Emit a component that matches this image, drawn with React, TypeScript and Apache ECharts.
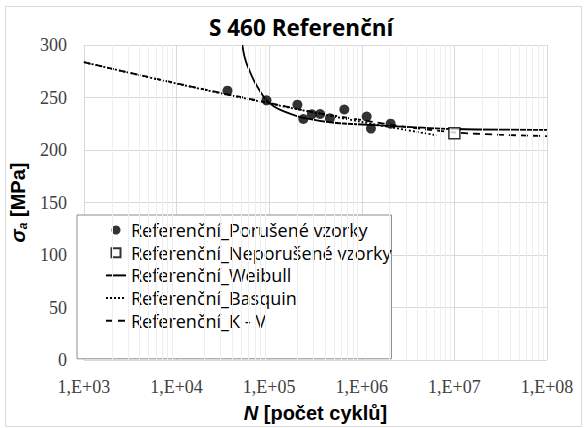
import React, { useEffect, useRef } from 'react';
import * as echarts from 'echarts';

// Failed specimens (Porušené vzorky)
const failedN = [35500, 93600, 202000, 234000, 289000, 355000, 453000, 648000, 1130000, 1256000, 2050000];
const failedS = [256.5, 247.3, 243.2, 229.5, 234.0, 234.3, 230.2, 238.6, 231.8, 220.4, 225.1];
// Run-outs (Neporušené vzorky)
const runoutN = [10000000];
const runoutS = [216];
// Weibull curve
const weibullN = [51250, 54200, 58750, 69200, 80100, 92200, 113000, 144500, 235500, 533000, 2000000, 10000000, 100000000];
const weibullS = [300, 289, 279.5, 265.3, 255.8, 247.9, 241.5, 236.8, 230.5, 225.7, 223.0, 220.0, 219.2];
// Basquin curve
const basquinN = [1000, 10000, 100000, 1000000, 6450000];
const basquinS = [283.6, 263.2, 244.3, 226.7, 214.0];
// Kohout-Věchet curve
const kvN = [1000, 10000, 100000, 300000, 1000000, 3000000, 10000000, 30000000, 100000000];
const kvS = [283.6, 263.5, 244.8, 236.0, 228.5, 222.0, 216.8, 214.6, 213.2];

const xDecades = [1000, 10000, 100000, 1000000, 10000000, 100000000];
const xTickLabels = ['1,E+03', '1,E+04', '1,E+05', '1,E+06', '1,E+07', '1,E+08'];
const yTickLabels = ['0', '50', '100', '150', '200', '250', '300'];

const seriesNames = [
  'Referenční_Porušené vzorky',
  'Referenční_Neporušené vzorky',
  'Referenční_Weibull',
  'Referenční_Basquin',
  'Referenční_K - V',
];

const OPEN = '"Open Sans", "Noto Sans", sans-serif';
const ARIAL = '"Liberation Sans", Arial, sans-serif';
const SERIF = '"Liberation Serif", "DejaVu Serif", serif';

const zip = (a: number[], b: number[]) => a.map((v, i) => [v, b[i]]);

export default function App() {
  const ref = useRef<HTMLDivElement>(null);
  useEffect(() => {
    if (!ref.current) return;
    const chart = echarts.init(ref.current, null, { renderer: 'svg' });
    const minorTicks: number[] = [];
    for (let d = 0; d < xDecades.length - 1; d++) {
      for (let k = 2; k <= 9; k++) minorTicks.push(k * xDecades[d]);
    }
    const hiddenSymbol = { opacity: 0, color: 'rgba(0,0,0,0)', borderWidth: 0 };
    const option: any = {
      animation: false,
      backgroundColor: '#ffffff',
      title: {
        text: 'S 460 Referenční',
        left: 209,
        top: 16,
        padding: 0,
        textStyle: { fontFamily: OPEN, fontWeight: 'bold', fontSize: 22.5, color: '#000' },
      },
      graphic: [
        {
          type: 'rect',
          silent: true,
          shape: { x: 5.5, y: 6.5, width: 576, height: 420 },
          style: { fill: 'none', stroke: '#d9d9d9', lineWidth: 1 },
        },
      ],
      grid: { left: 77, right: 37, top: 45, bottom: 67, containLabel: false },
      legend: {
        orient: 'vertical',
        left: 77,
        top: 215,
        padding: [6, 0, 29, 28],
        itemGap: 4.7,
        itemWidth: 20,
        itemHeight: 9,
        backgroundColor: '#ffffff',
        borderColor: '#8c8c8c',
        borderWidth: 1,
        textStyle: { fontFamily: OPEN, fontSize: 18, color: '#000', width: 285 },
        data: [
          { name: seriesNames[0], icon: 'circle' },
          { name: seriesNames[1], icon: 'path://M0,0H10V10H0Z' },
          { name: seriesNames[2], itemStyle: hiddenSymbol },
          { name: seriesNames[3], itemStyle: hiddenSymbol },
          { name: seriesNames[4], itemStyle: hiddenSymbol },
        ],
      },
      xAxis: {
        type: 'log',
        logBase: 10,
        min: xDecades[0],
        max: xDecades[xDecades.length - 1],
        name: '{n|N} {t|[počet cyklů]}',
        nameLocation: 'middle',
        nameGap: 43,
        nameTextStyle: {
          fontFamily: ARIAL,
          fontWeight: 'bold',
          fontSize: 20,
          color: '#000',
          rich: {
            n: { fontFamily: ARIAL, fontWeight: 'bold', fontStyle: 'italic', fontSize: 20, color: '#000' },
            t: { fontFamily: ARIAL, fontWeight: 'bold', fontSize: 20, color: '#000' },
          },
        },
        axisLine: { show: false },
        axisTick: { show: false },
        axisLabel: {
          fontFamily: SERIF,
          fontSize: 18,
          color: '#404040',
          margin: 18,
          formatter: (v: number) => {
            const i = xDecades.findIndex((d) => Math.abs(d - v) / d < 1e-6);
            return i >= 0 ? xTickLabels[i] : '';
          },
        },
        splitLine: { show: true, lineStyle: { color: '#d9d9d9', width: 1 } },
      },
      yAxis: {
        type: 'value',
        min: 0,
        max: 300,
        interval: 50,
        name: '{s|σ}{sub|a}{t| [MPa]}',
        nameLocation: 'middle',
        nameGap: 46,
        nameTextStyle: {
          fontFamily: ARIAL,
          fontWeight: 'bold',
          fontSize: 20,
          color: '#000',
          rich: {
            s: { fontFamily: ARIAL, fontWeight: 'bold', fontStyle: 'italic', fontSize: 20, color: '#000', lineHeight: 22 },
            sub: { fontFamily: ARIAL, fontWeight: 'bold', fontStyle: 'italic', fontSize: 12, color: '#000', lineHeight: 11, verticalAlign: 'bottom' },
            t: { fontFamily: ARIAL, fontWeight: 'bold', fontSize: 20, color: '#000', lineHeight: 22 },
          },
        },
        axisLine: { show: false },
        axisTick: { show: false },
        axisLabel: {
          fontFamily: SERIF,
          fontSize: 18,
          color: '#404040',
          margin: 17,
          formatter: (v: number) => yTickLabels[Math.round(v / 50)] ?? '',
        },
        splitLine: { show: true, lineStyle: { color: '#d9d9d9', width: 1 } },
      },
      series: [
        {
          name: '_minor',
          type: 'line',
          data: [],
          silent: true,
          z: 1,
          markLine: {
            silent: true,
            symbol: 'none',
            label: { show: false },
            lineStyle: { color: '#eeeeee', width: 1, type: 'solid' },
            emphasis: { disabled: true },
            data: minorTicks.map((v) => ({ xAxis: v })),
          },
        },
        {
          name: seriesNames[2],
          type: 'line',
          data: zip(weibullN, weibullS),
          smooth: 0.3,
          symbol: 'none',
          showSymbol: false,
          lineStyle: { color: '#000', width: 1.8, type: 'solid' },
          itemStyle: { color: '#000' },
          z: 3,
        },
        {
          name: seriesNames[3],
          type: 'line',
          data: zip(basquinN, basquinS),
          smooth: 0.3,
          symbol: 'none',
          showSymbol: false,
          lineStyle: { color: '#000', width: 1.8, type: [2, 2] },
          itemStyle: { color: '#000' },
          z: 3,
        },
        {
          name: seriesNames[4],
          type: 'line',
          data: zip(kvN, kvS),
          smooth: 0.3,
          symbol: 'none',
          showSymbol: false,
          lineStyle: { color: '#000', width: 1.8, type: [7, 5] },
          itemStyle: { color: '#000' },
          z: 3,
        },
        {
          name: seriesNames[0],
          type: 'scatter',
          data: zip(failedN, failedS),
          symbol: 'circle',
          symbolSize: 10,
          itemStyle: { color: '#000' },
          z: 5,
        },
        {
          name: seriesNames[1],
          type: 'scatter',
          data: zip(runoutN, runoutS),
          symbol: 'rect',
          symbolSize: 11,
          itemStyle: { color: '#ffffff', borderColor: '#000', borderWidth: 1.5 },
          z: 5,
        },
      ],
    };
    chart.setOption(option);
    return () => chart.dispose();
  }, []);
  return (
    <div
      ref={ref}
      style={{ position: 'fixed', left: 0, top: 0, width: 584, height: 428, background: '#fff' }}
    />
  );
}
